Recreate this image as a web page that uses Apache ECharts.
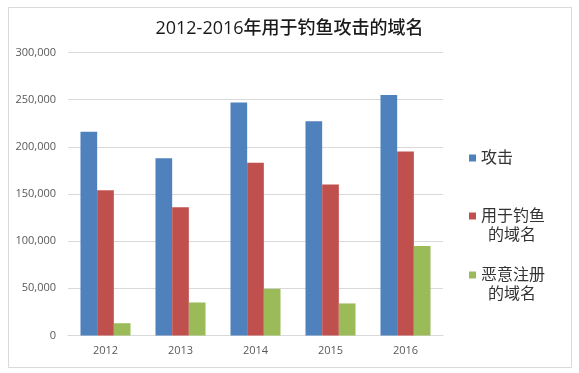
<!DOCTYPE html>
<html><head><meta charset="utf-8">
<script src="https://cdn.jsdelivr.net/npm/echarts@6/dist/echarts.min.js"></script>
<style>html,body{margin:0;padding:0;background:#fff}#c{width:579px;height:373px}</style>
</head><body><div id="c"></div>
<script>
const categories = ['2012', '2013', '2014', '2015', '2016'];
const seriesNames = ['攻击', '用于钓鱼的域名', '恶意注册的域名'];
const attack = [216000, 188000, 247000, 227000, 255000];
const phishingDomains = [154000, 136000, 183000, 160000, 195000];
const maliciousDomains = [13000, 35000, 49500, 34000, 95000];
const yTicks = [0, 50000, 100000, 150000, 200000, 250000, 300000];
const colors = ['#4F81BD', '#C0504D', '#9BBB59'];
const legendLines = {'攻击': ['攻击'], '用于钓鱼的域名': ['用于钓鱼', '的域名'], '恶意注册的域名': ['恶意注册', '的域名']};

const font = '"Open Sans", "Noto Sans CJK SC", sans-serif';
const chart = echarts.init(document.getElementById('c'));
const values = [attack, phishingDomains, maliciousDomains];
const legendTops = [145, 203, 262];
const legendTextStyle = {fontFamily: font, fontSize: 16, color: '#333'};
function legendFor(i) {
  const lines = legendLines[seriesNames[i]];
  return {
    data: [seriesNames[i]], orient: 'vertical', left: 464, top: legendTops[i],
    itemWidth: 7, itemHeight: 7, itemGap: 0, icon: 'rect',
    formatter: () => lines[0], textStyle: legendTextStyle
  };
}
const secondLines = [];
seriesNames.forEach((n, i) => {
  const lines = legendLines[n];
  if (lines.length > 1) {
    secondLines.push({type: 'text', left: 488, top: legendTops[i] + 24, silent: true,
      style: {text: lines[1], fill: '#333', font: '16px ' + font}});
  }
});
chart.setOption({
  backgroundColor: '#fff',
  animation: false,
  color: colors,
  title: {text: '2012-2016年用于钓鱼攻击的域名', left: 'center', top: 15,
    textStyle: {fontFamily: font, fontSize: 18, fontWeight: 500, color: '#1a1a1a'}},
  graphic: [{type: 'rect', left: 6, top: 5, shape: {width: 563, height: 360},
    style: {fill: 'none', stroke: '#d9d9d9', lineWidth: 1}, silent: true, z: -1}].concat(secondLines),
  legend: seriesNames.map((n, i) => legendFor(i)),
  grid: {left: 68, right: 136, top: 52.5, bottom: 37.5},
  xAxis: {type: 'category', data: categories,
    axisLine: {lineStyle: {color: '#d9d9d9'}},
    axisTick: {length: 4, lineStyle: {color: '#d9d9d9'}},
    axisLabel: {fontFamily: font, fontSize: 11, color: '#595959', margin: 10}},
  yAxis: {type: 'value', min: yTicks[0], max: yTicks[yTicks.length - 1], interval: 50000,
    axisLine: {show: false}, axisTick: {show: false},
    splitLine: {lineStyle: {color: '#d9d9d9'}},
    axisLabel: {fontFamily: font, fontSize: 11, color: '#595959', margin: 12,
      formatter: v => v.toLocaleString('en-US')}},
  series: seriesNames.map((n, i) => ({
    name: n, type: 'bar', data: values[i], barGap: '0%', barCategoryGap: '33.3%',
    itemStyle: {color: colors[i]}
  }))
});
</script></body></html>
